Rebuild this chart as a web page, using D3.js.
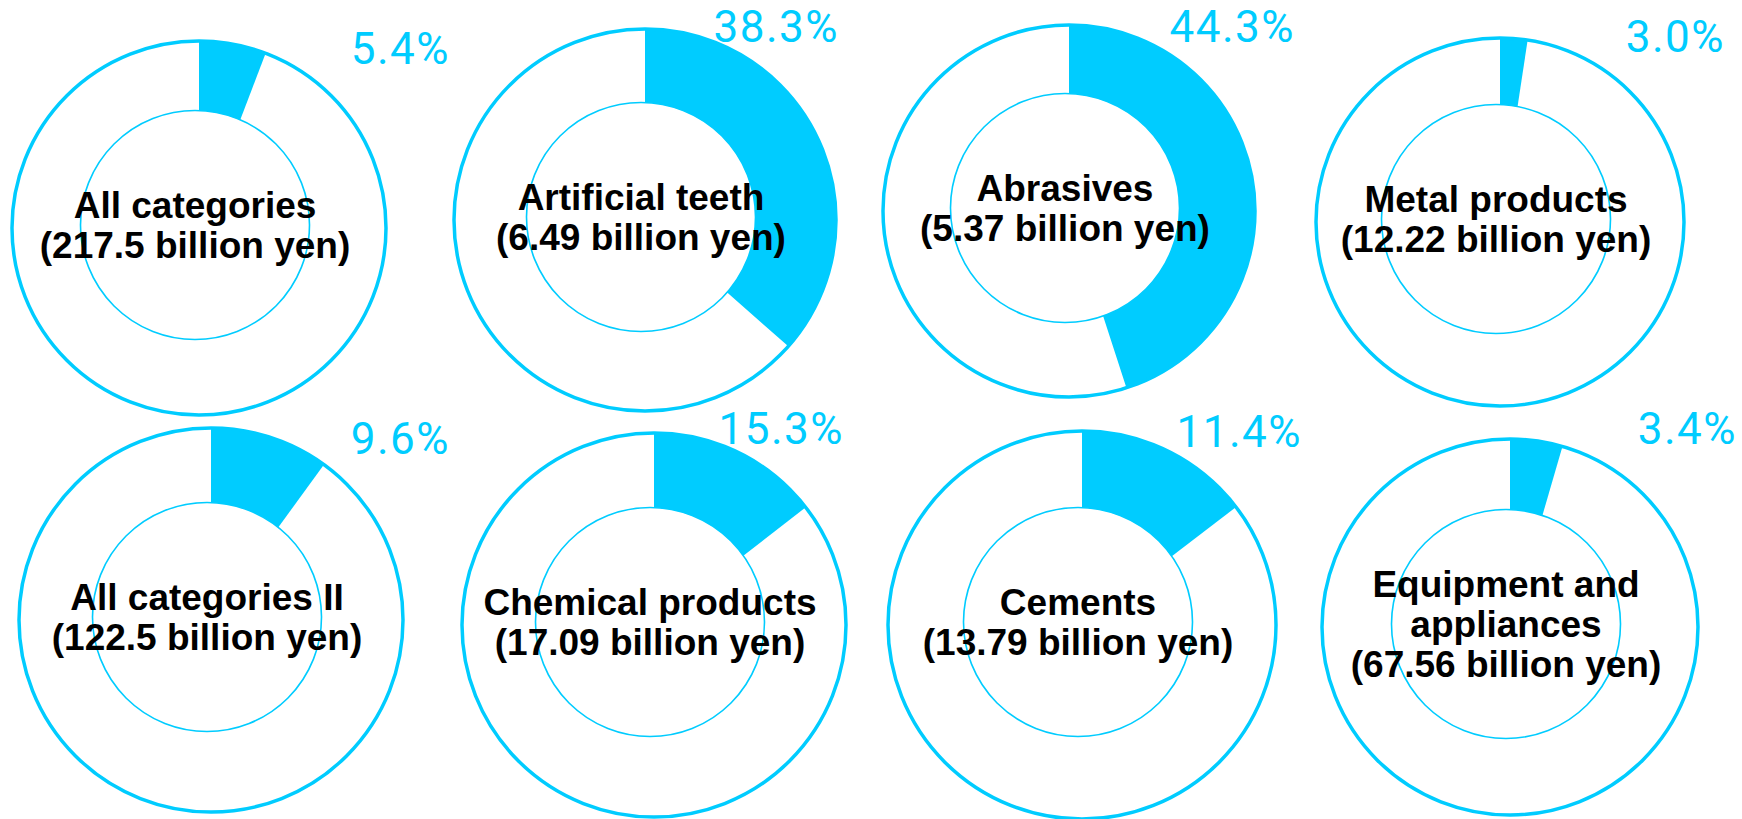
<!DOCTYPE html>
<html>
<head>
<meta charset="utf-8">
<script src="https://cdn.jsdelivr.net/npm/d3@7"></script>
<style>
  body { margin: 0; background: #fff; }
  svg { display: block; }
</style>
</head>
<body>
<svg width="1742" height="819"></svg>
<script>
// category names (already split into display lines)
var nameLines = [
  ["All categories"],
  ["Artificial teeth"],
  ["Abrasives"],
  ["Metal products"],
  ["All categories II"],
  ["Chemical products"],
  ["Cements"],
  ["Equipment and", "appliances"]
];
// totals, billion yen
var totals = [217.5, 6.49, 5.37, 12.22, 122.5, 17.09, 13.79, 67.56];
// share labels, %
var shares = [5.4, 38.3, 44.3, 3.0, 9.6, 15.3, 11.4, 3.4];
// wedge size as it is drawn in the source picture, % of the ring
var drawnShares = [5.8, 36.5, 45.0, 2.4, 10.0, 14.5, 14.6, 4.5];

// layout (the source is not a perfectly even grid)
var centerX = [199, 645, 1069, 1500, 211, 654, 1082, 1510];
var centerY = [228, 220, 211, 222, 620, 625, 625, 627];
var outerR  = [187, 191, 186, 184, 192, 192, 194, 188];
var labelX  = [450, 839, 1295, 1725, 450, 844, 1302, 1737];
var labelY  = [64, 42, 42, 52, 454, 444, 447, 444];

var svg = d3.select("svg");
var cyan = "#00ccff";
var innerR = 114.5;
var lineH = 40;

var pie = d3.pie().sort(null).value(function(d) { return d; });

nameLines.forEach(function(lines, i) {
  var cx = centerX[i], cy = centerY[i], r = outerR[i];
  var icx = cx - 4, icy = cy - 3;

  var g = svg.append("g").attr("class", "donut");

  var arc = d3.arc().innerRadius(0).outerRadius(r);
  var slices = pie([drawnShares[i], 100 - drawnShares[i]]);

  g.append("path")
    .attr("transform", "translate(" + cx + "," + cy + ")")
    .attr("d", arc(slices[0]))
    .attr("fill", cyan);

  // inner hole cuts the wedge
  g.append("circle")
    .attr("cx", icx)
    .attr("cy", icy)
    .attr("r", innerR)
    .attr("fill", "#fff")
    .attr("stroke", cyan)
    .attr("stroke-width", 1.6);

  g.append("circle")
    .attr("cx", cx)
    .attr("cy", cy)
    .attr("r", r)
    .attr("fill", "none")
    .attr("stroke", cyan)
    .attr("stroke-width", 3.5);

  var allLines = lines.concat(["(" + totals[i] + " billion yen)"]);
  var y0 = icy - (allLines.length - 1) * lineH / 2 + 13;

  g.append("text")
    .attr("text-anchor", "middle")
    .attr("font-family", "'Liberation Sans', Arial, sans-serif")
    .attr("font-weight", "bold")
    .attr("font-size", 37)
    .attr("fill", "#000")
    .selectAll("tspan")
    .data(allLines).enter()
    .append("tspan")
    .attr("x", icx)
    .attr("y", function(d, j) { return y0 + j * lineH; })
    .text(function(d) { return d; });

  g.append("text")
    .attr("x", labelX[i])
    .attr("y", labelY[i])
    .attr("text-anchor", "end")
    .attr("font-family", "Roboto, sans-serif")
    .attr("font-size", 44)
    .attr("letter-spacing", 1.5)
    .attr("fill", cyan)
    .text(shares[i].toFixed(1) + "%");
});
</script>
</body>
</html>
